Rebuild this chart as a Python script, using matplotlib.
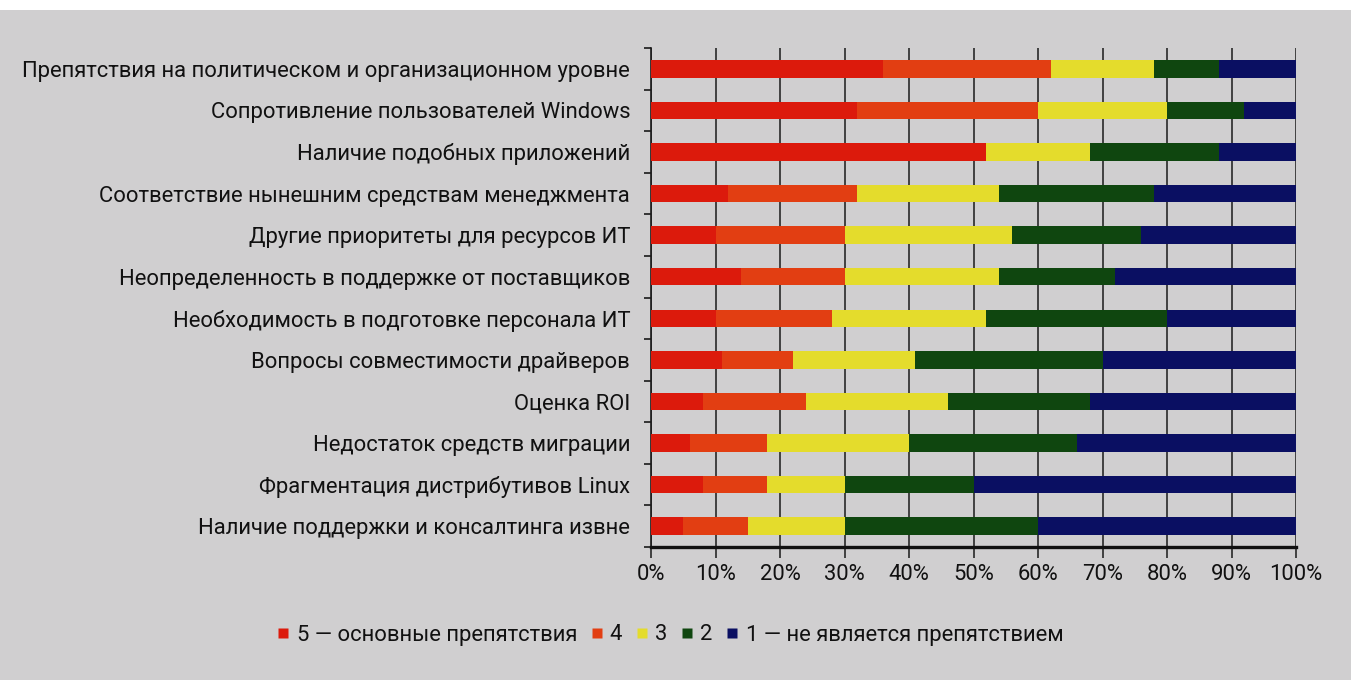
import matplotlib
matplotlib.use("Agg")
import matplotlib.pyplot as plt
from matplotlib.lines import Line2D
from matplotlib.patches import Rectangle
from matplotlib.ticker import FixedLocator, PercentFormatter
import numpy as np

plt.rcParams['font.family'] = ['Roboto', 'DejaVu Sans']

categories = [
    "Препятствия на политическом и организационном уровне",
    "Сопротивление пользователей Windows",
    "Наличие подобных приложений",
    "Соответствие нынешним средствам менеджмента",
    "Другие приоритеты для ресурсов ИТ",
    "Неопределенность в поддержке от поставщиков",
    "Необходимость в подготовке персонала ИТ",
    "Вопросы совместимости драйверов",
    "Оценка ROI",
    "Недостаток средств миграции",
    "Фрагментация дистрибутивов Linux",
    "Наличие поддержки и консалтинга извне",
]

# Share of answers per rating (percent)
score5 = [36, 32, 52, 12, 10, 14, 10, 11, 8, 6, 8, 5]
score4 = [26, 28, 0, 20, 20, 16, 18, 11, 16, 12, 10, 10]
score3 = [16, 20, 16, 22, 26, 24, 24, 19, 22, 22, 12, 15]
score2 = [10, 12, 20, 24, 20, 18, 28, 29, 22, 26, 20, 30]
score1 = [12, 8, 12, 22, 24, 28, 20, 30, 32, 34, 50, 40]

series_labels = ["5 — основные препятствия", "4", "3", "2", "1 — не является препятствием"]
series_colors = ["#dc1a0c", "#e23e12", "#e4dc2c", "#0f460f", "#0a0f62"]
x_ticks = list(range(0, 101, 10))

bg = "#d0cfd0"
fs = 15.8
fig = plt.figure(figsize=(13.51, 6.80), dpi=100, facecolor=bg)
# white paper strip along the top edge
fig.patches.append(Rectangle((0, 1 - 10 / 680), 1, 10 / 680, transform=fig.transFigure,
                             facecolor="white", edgecolor="none", zorder=0))

ax = fig.add_axes([651 / 1351, 1 - 547 / 680, 645 / 1351, 499 / 680])
ax.set_facecolor(bg)

y = np.arange(len(categories))
left = np.zeros(len(categories))
for vals, lab, col in zip([score5, score4, score3, score2, score1], series_labels, series_colors):
    v = np.array(vals, dtype=float)
    ax.barh(y, v, left=left, height=0.42, color=col, label=lab, zorder=3)
    left += v

ax.set_xlim(0, 100)
ax.set_ylim(len(categories) - 0.5, -0.5)

ax.set_xticks(x_ticks)
ax.xaxis.set_major_formatter(PercentFormatter(decimals=0))
ax.grid(axis="x", color="#1a1a1a", linewidth=1.1, zorder=1)
ax.set_axisbelow(True)

ax.set_yticks(y)
ax.set_yticklabels(categories)
ax.yaxis.set_minor_locator(FixedLocator(np.arange(-0.5, len(categories), 1.0)))
ax.tick_params(axis="y", which="major", length=0, pad=15, labelsize=fs, labelcolor="#111111")
ax.tick_params(axis="y", which="minor", length=5, width=1.2, color="#1a1a1a")
ax.tick_params(axis="x", which="major", length=8, width=1.1, color="#1a1a1a",
               labelsize=fs, labelcolor="#111111", pad=4)

for s in ["top", "right"]:
    ax.spines[s].set_visible(False)
ax.spines["left"].set_color("#1a1a1a")
ax.spines["left"].set_linewidth(1.2)
ax.spines["bottom"].set_color("#111111")
ax.spines["bottom"].set_linewidth(2.4)

handles = [Line2D([], [], marker="s", linestyle="none", markersize=6.5,
                  markerfacecolor=c, markeredgecolor="none") for c in series_colors]
fig.legend(handles, series_labels, loc="center", bbox_to_anchor=(670 / 1351, 1 - 635 / 680),
           ncol=5, frameon=False, fontsize=fs, handlelength=0.6, handletextpad=0.3,
           columnspacing=0.6, labelcolor="#111111")

fig.savefig("out.png", dpi=100, facecolor=bg)
